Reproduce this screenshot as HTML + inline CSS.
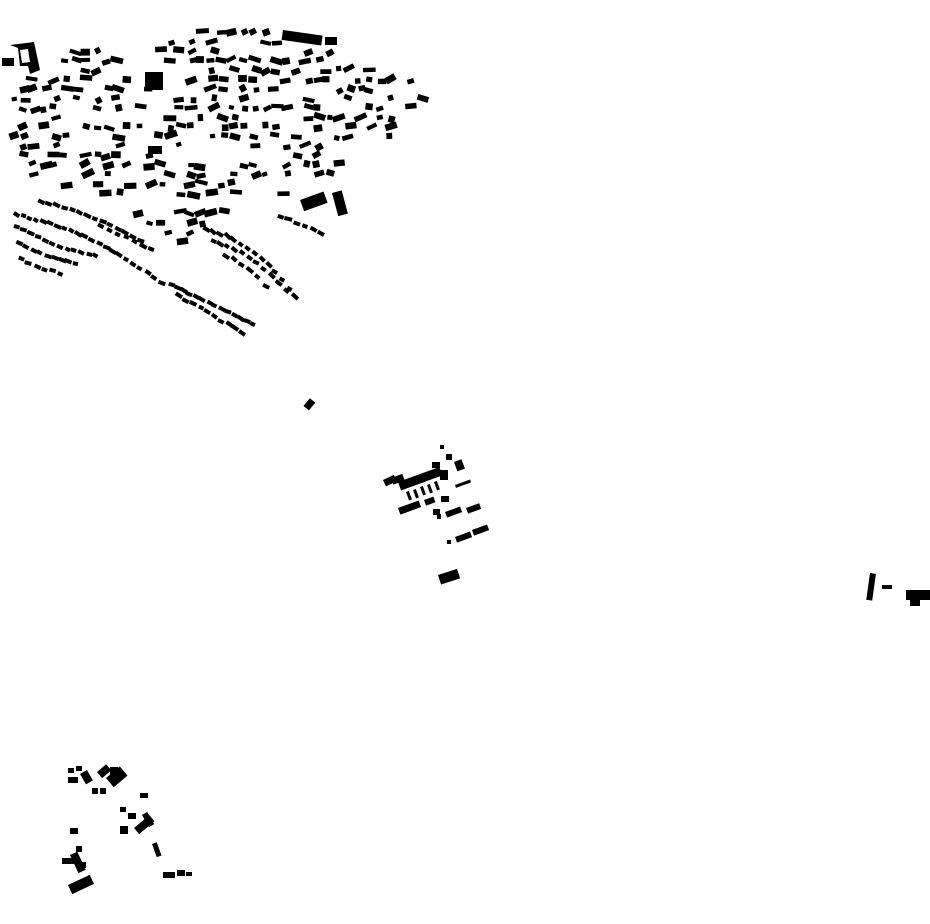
<!DOCTYPE html>
<html><head><meta charset="utf-8"><style>
html,body{margin:0;padding:0;background:#fff;width:930px;height:924px;overflow:hidden}
svg{display:block}
</style></head><body>
<svg id="s" width="930" height="924" viewBox="0 0 930 924" xmlns="http://www.w3.org/2000/svg">
<g id="g" fill="#000">
<path d="M10 45 L34 42 L40 70 L30 74 L28 66 L20 66 L18 48 Z M20 50 L22 63 L30 62 L28 49 Z" fill-rule="evenodd"/>
<rect x="2" y="58" width="12" height="8"/>
<rect x="283" y="30" width="40" height="10" transform="rotate(8 283 30)"/>
<rect x="325" y="37" width="12" height="8"/>
<rect x="300" y="200" width="25" height="12" transform="rotate(-20 300 200)"/>
<rect x="332" y="193" width="10" height="24" transform="rotate(-15 332 193)"/>
<rect x="148" y="146" width="14" height="8"/>
<rect x="145" y="72" width="18" height="18"/>
<rect x="304" y="401" width="10" height="7" transform="rotate(-50 309 404)"/>
<rect x="383" y="480" width="12" height="7" transform="rotate(-25 383 480)"/>
<rect x="391" y="478" width="12" height="7" transform="rotate(-20 391 478)"/>
<rect x="398" y="482" width="44" height="9" transform="rotate(-20 398 482)"/>
<rect x="406" y="492" width="3" height="9" transform="rotate(-20 406 492)"/>
<rect x="413" y="490" width="3" height="9" transform="rotate(-20 413 490)"/>
<rect x="420" y="487" width="3" height="9" transform="rotate(-20 420 487)"/>
<rect x="427" y="485" width="3" height="9" transform="rotate(-20 427 485)"/>
<rect x="434" y="482" width="3" height="9" transform="rotate(-20 434 482)"/>
<rect x="398" y="508" width="22" height="7" transform="rotate(-20 398 508)"/>
<rect x="424" y="500" width="10" height="6" transform="rotate(-20 424 500)"/>
<rect x="441" y="496" width="8" height="6"/>
<rect x="433" y="509" width="7" height="6"/>
<rect x="445" y="512" width="16" height="6" transform="rotate(-20 445 512)"/>
<rect x="466" y="508" width="14" height="6" transform="rotate(-20 466 508)"/>
<rect x="455" y="485" width="16" height="3" transform="rotate(-20 455 485)"/>
<rect x="432" y="462" width="8" height="6"/>
<rect x="446" y="454" width="6" height="6"/>
<rect x="440" y="445" width="4" height="4"/>
<rect x="454" y="462" width="8" height="10" transform="rotate(-20 454 462)"/>
<rect x="440" y="470" width="8" height="10"/>
<rect x="455" y="537" width="16" height="6" transform="rotate(-20 455 537)"/>
<rect x="472" y="530" width="16" height="6" transform="rotate(-20 472 530)"/>
<rect x="447" y="540" width="4" height="4"/>
<rect x="438" y="575" width="20" height="10" transform="rotate(-18 438 575)"/>
<rect x="437" y="514" width="4" height="5"/>
<rect x="870" y="573" width="6" height="27" transform="rotate(8 870 573)"/>
<rect x="882" y="585" width="10" height="4"/>
<rect x="906" y="590" width="24" height="10"/>
<rect x="910" y="598" width="10" height="8"/>
<rect x="68" y="768" width="6" height="5"/>
<rect x="76" y="766" width="6" height="5"/>
<rect x="68" y="777" width="10" height="6"/>
<rect x="80" y="774" width="8" height="12" transform="rotate(-30 80 774)"/>
<rect x="97" y="772" width="12" height="8" transform="rotate(-40 97 772)"/>
<rect x="110" y="767" width="8" height="8"/>
<rect x="106" y="778" width="18" height="12" transform="rotate(-40 106 778)"/>
<rect x="92" y="788" width="6" height="6"/>
<rect x="100" y="788" width="6" height="6"/>
<rect x="140" y="793" width="8" height="5"/>
<rect x="120" y="807" width="6" height="5"/>
<rect x="128" y="813" width="8" height="6"/>
<rect x="120" y="826" width="8" height="8"/>
<rect x="134" y="828" width="20" height="8" transform="rotate(-40 134 828)"/>
<rect x="142" y="815" width="6" height="14" transform="rotate(-30 142 815)"/>
<rect x="152" y="844" width="5" height="14" transform="rotate(-20 152 844)"/>
<rect x="70" y="828" width="8" height="6"/>
<rect x="76" y="846" width="6" height="6"/>
<rect x="62" y="858" width="12" height="6"/>
<rect x="70" y="855" width="8" height="20" transform="rotate(-25 70 855)"/>
<rect x="76" y="862" width="10" height="6"/>
<rect x="68" y="885" width="24" height="10" transform="rotate(-25 68 885)"/>
<rect x="163" y="872" width="12" height="6"/>
<rect x="177" y="870" width="8" height="6"/>
<rect x="186" y="872" width="6" height="4"/>
</g>
</svg>
<script>
(function(){
var g=document.getElementById('g');var NS='http://www.w3.org/2000/svg';
var seed=12345;function r(){seed=(seed*16807)%2147483647;return (seed-1)/2147483646;}
function rect(x,y,w,h,a){var e=document.createElementNS(NS,'rect');e.setAttribute('x',x-w/2);e.setAttribute('y',y-h/2);e.setAttribute('width',w);e.setAttribute('height',h);e.setAttribute('transform','rotate('+a+' '+x+' '+y+')');g.appendChild(e);}
function inside(p,x,y){var c=false;for(var i=0,j=p.length-1;i<p.length;j=i++){var xi=p[i][0],yi=p[i][1],xj=p[j][0],yj=p[j][1];if(((yi>y)!=(yj>y))&&(x<(xj-xi)*(y-yi)/(yj-yi)+xi))c=!c;}return c;}
var core=[[5,80],[60,55],[150,38],[180,28],[280,32],[340,45],[380,72],[445,88],[420,110],[395,132],[370,150],[330,175],[300,188],[280,200],[260,215],[240,205],[215,222],[185,248],[160,235],[130,210],[90,195],[50,180],[20,170],[5,125]];
for(var y=30;y<255;y+=9.5){for(var x=0;x<450;x+=10.5){var px=x+r()*5,py=y+r()*4;if(px<45&&py<78)continue;if(inside(core,px,py)&&r()<0.42){var w=5+r()*8,h=4+r()*3;rect(px,py,w,h,-30+r()*50);}}}
function arc(x1,y1,x2,y2,n,bend){for(var i=0;i<n;i++){var t=i/(n-1);var x=x1+(x2-x1)*t,y=y1+(y2-y1)*t+Math.sin(t*Math.PI)*bend;rect(x+r()*2,y+r()*2,5+r()*3,4,Math.atan2(y2-y1,x2-x1)*57+r()*20-10);}}
arc(15,213,160,282,22,-10);arc(15,225,95,255,12,4);arc(18,242,75,262,9,3);arc(20,258,60,272,6,2);
arc(40,200,140,240,14,-4);arc(170,283,252,323,14,0);arc(178,295,242,332,10,0);
arc(205,228,295,295,14,-12);arc(212,240,285,290,11,-8);arc(225,255,265,285,6,-4);
arc(100,225,150,248,7,0);arc(280,215,320,232,6,0);
})();
</script>
</body></html>
